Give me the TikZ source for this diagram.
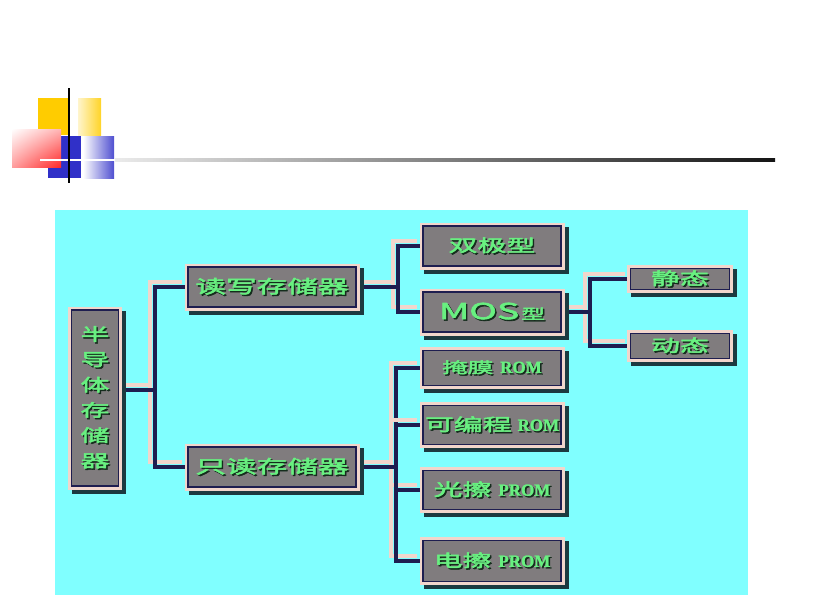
\documentclass[tikz,border=0pt]{standalone}
\usepackage{fontspec}
\usepackage{tikz}
\usetikzlibrary{positioning,shadows,shadings,backgrounds,calc}
\newfontfamily\cjk[FakeStretch=1.7,FakeBold=3]{Noto Sans CJK SC}
\newfontfamily\romfont[FakeBold=1.5]{Liberation Serif}
\definecolor{slidecyan}{RGB}{128,255,255}
\definecolor{boxgray}{RGB}{128,124,126}
\definecolor{framecol}{RGB}{242,214,204}
\definecolor{navyline}{RGB}{30,30,80}
\definecolor{shadowcol}{RGB}{28,58,64}
\definecolor{txtgreen}{RGB}{104,240,128}
\definecolor{txtshadow}{RGB}{20,44,28}
\definecolor{yellowsq}{RGB}{255,204,0}
\definecolor{redsq}{RGB}{255,40,40}
\definecolor{bluesq}{RGB}{48,48,200}
\newcommand\emb[1]{\makebox[0pt][l]{\kern1.5pt\raisebox{-1.5pt}{\color{txtshadow}#1}}#1}
\tikzset{
  mem/.style={rectangle,inner sep=0pt,
    drop shadow={shadow xshift=4pt,shadow yshift=-4pt,fill=shadowcol,
                 draw=shadowcol,line width=7pt,opacity=1},
    preaction={draw=framecol,line width=7pt},
    fill=boxgray,draw=navyline,line width=1.5pt,
    text=txtgreen,font=\fontsize{17}{20}\selectfont\cjk},
  memwide/.style={mem,minimum width=138,minimum height=40},
  memsmall/.style={mem,minimum width=99,minimum height=23},
  conn/.style={draw=navyline,line width=4pt,line join=miter,
    preaction={draw=framecol,line width=4pt,transform canvas={shift={(-5pt,5pt)}}}},
}

\begin{document}
\begin{tikzpicture}[x=1pt,y=-1pt]
  \useasboundingbox (0,0) rectangle (817,613);
  % title bar
  \fill[yellowsq] (38,98) rectangle (70,135);
  \shade[left color=yellowsq!20,right color=yellowsq!85] (78,98) rectangle (101,135);
  \fill[bluesq] (48,136) rectangle (81,178);
  \shade[left color=white,right color=bluesq!85] (83,136) rectangle (114,178);
  \shade[upper left=white,upper right=redsq!35,lower left=redsq!45,lower right=redsq]
    (12,129) rectangle (61,167);
  \draw[white,line width=2.5] (40,160) -- (115,160);
  \shade[left color=black!8,right color=black!92] (115,158.8) rectangle (775,161.6);
  \draw[black,line width=2.5] (69,88) -- (69,183);
  \begin{scope}[on background layer]
    \fill[slidecyan] (55,210) rectangle (748,595);
  \end{scope}
  % level 0
  \node[mem,minimum width=47,minimum height=176,align=center,
        font=\fontsize{17}{25.3}\selectfont\cjk] (root) at (95,398)
    {\emb{半}\\\emb{导}\\\emb{体}\\\emb{存}\\\emb{储}\\\emb{器}};
  % level 1
  \node[mem,minimum width=168,minimum height=40,font=\fontsize{18}{20}\selectfont\cjk]
    (rw) at (272,287) {\emb{读写存储器}};
  \node[mem,minimum width=168,minimum height=40,font=\fontsize{18}{20}\selectfont\cjk]
    (ro) at (272,467) {\emb{只读存储器}};
  % level 2
  \node[memwide] (bip) at (492,246) {\emb{双极型}};
  \node[memwide] (mos) at (492,312)
    {\emb{{\fontsize{22}{22}\selectfont MOS}\kern2pt{\fontsize{14}{16}\selectfont 型}}};
  \node[memwide,minimum height=35] (mask) at (492,368)
    {\emb{{\fontsize{15}{18}\selectfont 掩膜}\hspace{7pt}{\romfont\bfseries ROM}}};
  \node[memwide,minimum height=39] (prog) at (492,425)
    {\emb{可编程\hspace{6pt}{\romfont\bfseries ROM}}};
  \node[memwide,minimum height=39] (uvp) at (492,490)
    {\emb{光擦\hspace{7pt}{\romfont\bfseries PROM}}};
  \node[memwide,minimum height=41] (eep) at (492,561)
    {\emb{电擦\hspace{7pt}{\romfont\bfseries PROM}}};
  % level 3
  \node[memsmall,minimum height=21] (stat) at (680,279) {\emb{静态}};
  \node[memsmall,minimum height=25] (dyn) at (680,346) {\emb{动态}};
  \coordinate (j1) at (155,0);
  \coordinate (j2) at (398,0);
  \coordinate (j3) at (590,0);
  \coordinate (j4) at (396,0);
  \begin{scope}[on background layer]
    \foreach \t in {rw,ro}
      {\draw[conn] ([yshift=8pt]root.east) -| (j1 |- \t.west) -- (\t.west);}
    \foreach \t in {bip,mos}
      {\draw[conn] (rw.east) -| (j2 |- \t.west) -- (\t.west);}
    \foreach \t in {stat,dyn}
      {\draw[conn] (mos.east) -| (j3 |- \t.west) -- (\t.west);}
    \foreach \t in {mask,prog,uvp,eep}
      {\draw[conn] (ro.east) -| (j4 |- \t.west) -- (\t.west);}
  \end{scope}
\end{tikzpicture}
\end{document}
